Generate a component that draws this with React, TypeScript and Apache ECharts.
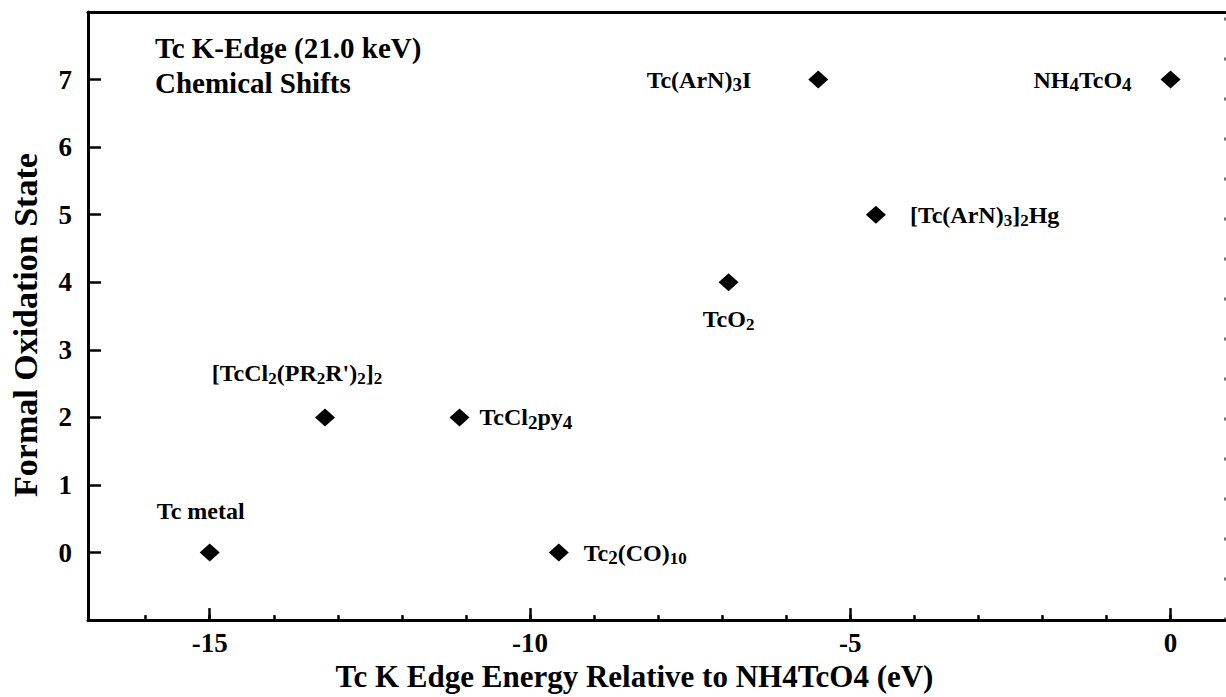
import React, { useEffect, useRef } from "react";
import * as echarts from "echarts";

// ---- data ----
const compoundNames = [
  "Tc metal",
  "[TcCl2(PR2R')2]2",
  "TcCl2py4",
  "Tc2(CO)10",
  "TcO2",
  "Tc(ArN)3I",
  "[Tc(ArN)3]2Hg",
  "NH4TcO4",
];
// rich-text versions of the same names (subscripts)
const compoundRich = [
  "{m|Tc metal}",
  "{m|[TcCl}{s|2}{m|(PR}{s|2}{m|R')}{s|2}{m|]}{s|2}",
  "{m|TcCl}{o|2}{m|py}{o|4}",
  "{m|Tc}{o|2}{m|(CO)}{s|10}",
  "{m|TcO}{s|2}",
  "{m|Tc(ArN)}{o|3}{m|I}",
  "{m|[Tc(ArN)}{s|3}{m|]}{s|2}{m|Hg}",
  "{m|NH}{o|4}{m|TcO}{o|4}",
];
const edgeShift = [-15, -13.2, -11.1, -9.55, -6.9, -5.5, -4.6, 0]; // eV
const oxidationState = [0, 2, 2, 0, 4, 7, 5, 7];

const xMajorTicks = [-15, -10, -5, 0];
const xMinorTicks = [-16, -15, -14, -13, -12, -11, -10, -9, -8, -7, -6, -5, -4, -3, -2, -1, 0];
const yTicks = [0, 1, 2, 3, 4, 5, 6, 7];

const titleLines = ["Tc K-Edge (21.0 keV)", "Chemical Shifts"];
const xAxisTitle = "Tc K Edge Energy Relative to NH4TcO4 (eV)";
const yAxisTitle = "Formal Oxidation State";

// label placement (style)
const labelPlacement: any[] = [
  { position: "top", distance: 18, offset: [-9, 0] },
  { position: "top", distance: 21, offset: [-28, 0] },
  { position: "right", distance: 10 },
  { position: "right", distance: 15 },
  { position: "bottom", distance: 13 },
  { position: "left", distance: 57 },
  { position: "right", distance: 24 },
  { position: "left", distance: 29 },
];

const FONT = '"Liberation Serif", "Times New Roman", Times, serif';

export default function App() {
  const ref = useRef<HTMLDivElement>(null);
  useEffect(() => {
    if (!ref.current) return;
    const chart = echarts.init(ref.current, undefined, { renderer: "svg" });
    const rich = {
      m: { fontSize: 24, fontWeight: "bold", fontFamily: FONT, color: "#000", lineHeight: 29, verticalAlign: "middle" },
      s: { fontSize: 17, fontWeight: "bold", fontFamily: FONT, color: "#000", lineHeight: 15, verticalAlign: "bottom" },
      o: { fontSize: 19, fontWeight: "bold", fontFamily: FONT, color: "#000", lineHeight: 19, verticalAlign: "bottom" },
    };
    const data = edgeShift.map((x, i) => ({
      value: [x, oxidationState[i]],
      name: compoundNames[i],
      label: {
        show: true,
        formatter: compoundRich[i],
        rich,
        ...labelPlacement[i],
      },
    }));
    const minX = -16.9;
    const maxX = 0.85;
    chart.setOption({
      animation: false,
      backgroundColor: "#fff",
      title: {
        text: titleLines.join("\n"),
        left: 150,
        top: 25,
        textStyle: {
          fontFamily: FONT,
          fontWeight: "bold",
          fontSize: 29,
          lineHeight: 35,
          color: "#000",
        },
      },
      grid: { left: 86, right: 1, top: 12, bottom: 75 },
      xAxis: [
        {
          type: "value",
          min: minX,
          max: maxX,
          position: "bottom",
          axisLine: { show: true, onZero: false, lineStyle: { color: "#000", width: 3 } },
          axisTick: {
            show: true,
            inside: true,
            length: 12,
            customValues: xMajorTicks,
            lineStyle: { color: "#000", width: 2.5 },
          },
          axisLabel: {
            show: true,
            customValues: xMajorTicks,
            margin: 9,
            fontSize: 27,
            fontWeight: "bold",
            fontFamily: FONT,
            color: "#000",
            formatter: (v: number) => String(v),
          },
          splitLine: { show: false },
          name: xAxisTitle,
          nameLocation: "middle",
          nameGap: 38,
          nameTextStyle: {
            fontSize: 31,
            fontWeight: "bold",
            fontFamily: FONT,
            color: "#000",
            padding: [0, 44, 0, 0],
          },
        },
        {
          type: "value",
          min: minX,
          max: maxX,
          position: "bottom",
          axisLine: { show: false, onZero: false },
          axisTick: {
            show: true,
            inside: true,
            length: 5,
            customValues: xMinorTicks,
            lineStyle: { color: "#000", width: 2.5 },
          },
          axisLabel: { show: false },
          splitLine: { show: false },
        },
        {
          type: "value",
          min: minX,
          max: maxX,
          position: "top",
          axisLine: { show: true, onZero: false, lineStyle: { color: "#000", width: 3 } },
          axisTick: { show: false },
          axisLabel: { show: false },
          splitLine: { show: false },
        },
      ],
      yAxis: [
        {
          type: "value",
          min: -1,
          max: 8,
          position: "left",
          axisLine: { show: true, onZero: false, lineStyle: { color: "#000", width: 3 } },
          axisTick: {
            show: true,
            inside: true,
            length: 13,
            customValues: yTicks,
            lineStyle: { color: "#000", width: 2.5 },
          },
          axisLabel: {
            show: true,
            customValues: yTicks,
            margin: 16,
            fontSize: 27,
            fontWeight: "bold",
            fontFamily: FONT,
            color: "#000",
          },
          splitLine: { show: false },
          name: yAxisTitle,
          nameLocation: "middle",
          nameGap: 46,
          nameTextStyle: {
            fontSize: 34,
            fontWeight: "bold",
            fontFamily: FONT,
            color: "#000",
            padding: [0, 18, 0, 0],
          },
        },
        {
          type: "value",
          min: -1,
          max: 8,
          position: "right",
          axisLine: {
            show: true,
            onZero: false,
            lineStyle: { color: "#444", width: 1.5, type: [2, 38] },
          },
          axisTick: { show: false },
          axisLabel: { show: false },
          splitLine: { show: false },
        },
      ],
      series: [
        {
          type: "scatter",
          xAxisIndex: 0,
          yAxisIndex: 0,
          symbol: "diamond",
          symbolSize: [20, 18],
          itemStyle: { color: "#000", opacity: 1 },
          data,
        },
      ],
    });
    return () => chart.dispose();
  }, []);
  return (
    <div
      ref={ref}
      style={{ position: "absolute", left: 0, top: 0, width: 1226, height: 697 }}
    />
  );
}
